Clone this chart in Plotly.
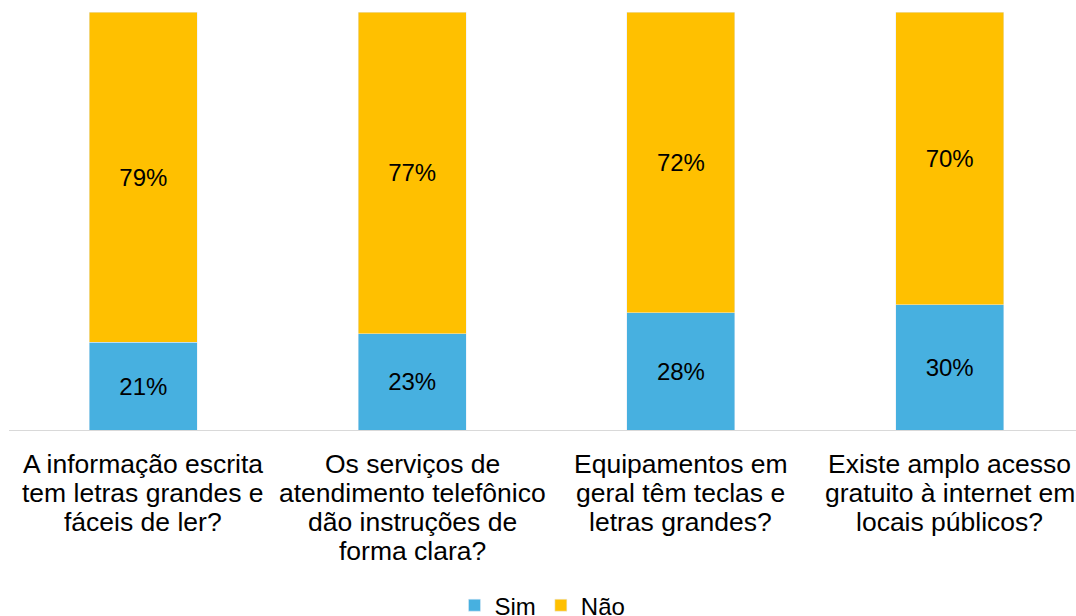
import plotly.graph_objects as go

categories = [
    "A informação escrita\ntem letras grandes e\nfáceis de ler?",
    "Os serviços de\natendimento telefônico\ndão instruções de\nforma clara?",
    "Equipamentos em\ngeral têm teclas e\nletras grandes?",
    "Existe amplo acesso\ngratuito à internet em\nlocais públicos?",
]
sim = [21, 23, 28, 30]
nao = [79, 77, 72, 70]

keys = [c.replace("\n", " ") for c in categories]

fig = go.Figure()
fig.add_trace(go.Bar(
    name="Sim", x=keys, y=sim, marker_color="#47B0E0",
    text=[f"{v}%" for v in sim], textposition="inside", insidetextanchor="middle",
    textfont=dict(size=24, color="#000000"),
))
fig.add_trace(go.Bar(
    name="Não", x=keys, y=nao, marker_color="#FFC000",
    text=[f"{v}%" for v in nao], textposition="inside", insidetextanchor="middle",
    textfont=dict(size=24, color="#000000"),
))

LABEL_SIZE = 26.5
LINE_STEP = 29
FIRST_SHIFT = -17
for key, cat in zip(keys, categories):
    for j, line in enumerate(cat.split("\n")):
        fig.add_annotation(
            x=key, y=0, xref="x", yref="y", yanchor="top", xanchor="center",
            text=line, showarrow=False,
            font=dict(size=LABEL_SIZE, color="#000000"),
            yshift=FIRST_SHIFT - j * LINE_STEP,
        )

fig.update_layout(
    barmode="stack",
    bargap=0.598,
    width=1076, height=616,
    margin=dict(l=9, r=0, t=12, b=186, autoexpand=False),
    paper_bgcolor="white", plot_bgcolor="white",
    font=dict(family="Liberation Sans, Arial, sans-serif", size=24, color="#000000"),
    showlegend=True,
    legend=dict(orientation="h", x=0.5, xanchor="center", y=-0.42, yanchor="middle",
                font=dict(size=24), itemwidth=30, traceorder="normal"),
    uniformtext=dict(minsize=24, mode="show"),
)
fig.update_xaxes(showline=True, linecolor="#D9D9D9", linewidth=1, ticks="",
                 showticklabels=False, range=[-0.5, 3.47], automargin=False)
fig.update_yaxes(range=[0, 100], visible=False, showgrid=False, automargin=False)

fig.write_html(
    "out.html",
    config={"displayModeBar": False},
    post_script="document.body.style.margin='0';document.body.style.overflow='hidden';"
                "document.documentElement.style.overflow='hidden';",
)
